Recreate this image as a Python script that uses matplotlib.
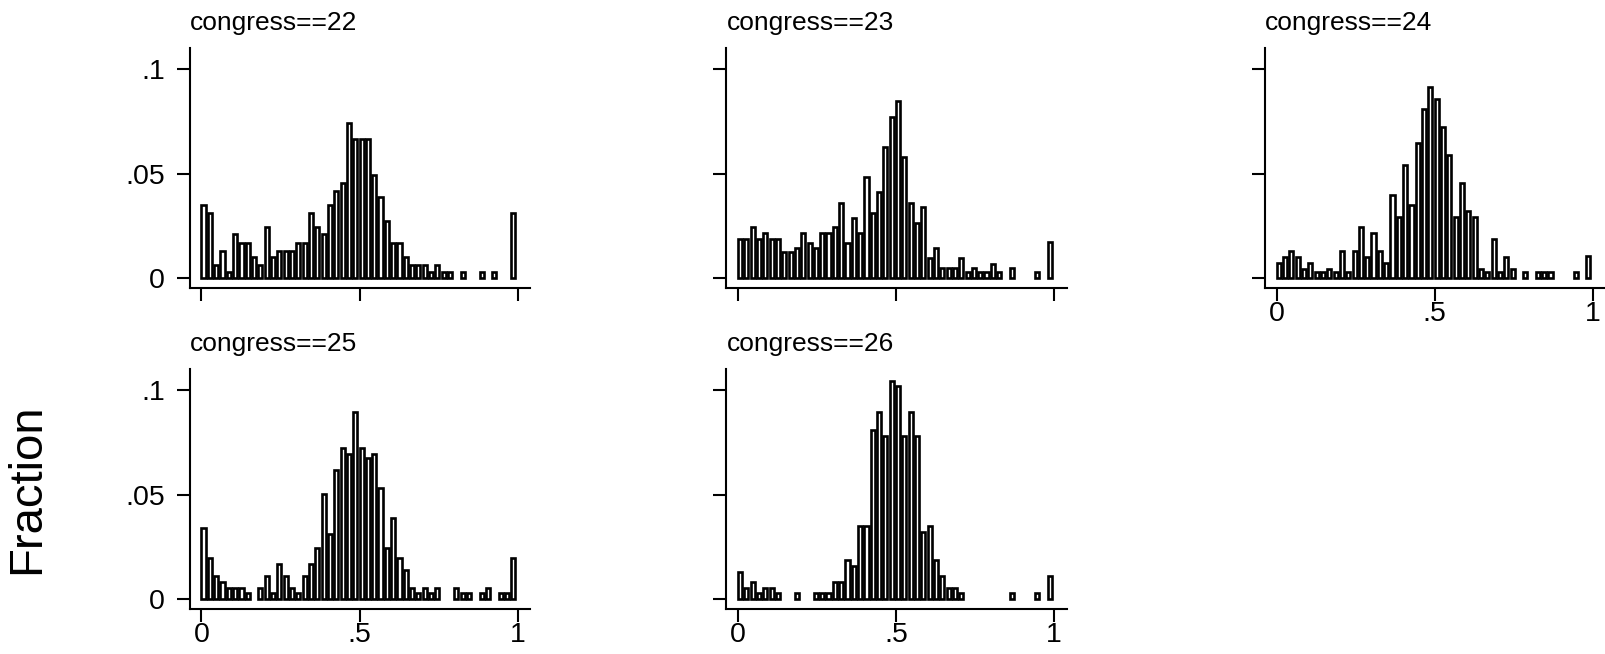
"""
Vote-share histograms by congress (Stata-style small multiples)
"""

import numpy as np
import matplotlib

matplotlib.use("Agg")
import matplotlib.pyplot as plt

plt.rcParams["font.family"] = ["Liberation Sans", "DejaVu Sans"]

# 50 bins of width .02 on [0, 1]
BIN_WIDTH = 0.02
bin_left = np.arange(50) * BIN_WIDTH

frac_22 = [
    .0352, .0313, .0063, .0132, .0029, .0210, .0171, .0171, .0103, .0063,
    .0246, .0103, .0132, .0132, .0132, .0171, .0171, .0313, .0246, .0210,
    .0352, .0417, .0456, .0741, .0665, .0665, .0665, .0494, .0389, .0275,
    .0171, .0171, .0103, .0063, .0063, .0063, .0029, .0063, .0029, .0029,
    0, .0029, 0, 0, .0029, 0, .0029, 0, 0, .0313,
]
frac_23 = [
    .0190, .0190, .0246, .0190, .0217, .0190, .0190, .0124, .0124, .0143,
    .0217, .0171, .0143, .0217, .0217, .0246, .0362, .0171, .0286, .0217,
    .0484, .0313, .0410, .0627, .0770, .0846, .0579, .0362, .0265, .0341,
    .0095, .0143, .0048, .0048, .0048, .0095, .0029, .0048, .0029, .0029,
    .0067, .0029, 0, .0048, 0, 0, 0, .0029, 0, .0172,
]
frac_24 = [
    .0075, .0103, .0132, .0103, .0046, .0075, .0029, .0029, .0046, .0029,
    .0132, .0029, .0132, .0246, .0103, .0217, .0132, .0075, .0397, .0294,
    .0541, .0352, .0646, .0810, .0913, .0854, .0722, .0590, .0294, .0456,
    .0321, .0294, .0046, .0029, .0189, .0029, .0103, .0046, 0, .0029,
    0, .0029, .0029, .0029, 0, 0, 0, .0029, 0, .0105,
]
frac_25 = [
    .0339, .0195, .0110, .0080, .0051, .0051, .0051, .0030, 0, .0051,
    .0110, .0030, .0168, .0110, .0051, .0030, .0110, .0168, .0243, .0502,
    .0310, .0618, .0722, .0693, .0895, .0722, .0674, .0693, .0530, .0243,
    .0387, .0195, .0139, .0051, .0030, .0051, .0030, .0051, 0, 0,
    .0051, .0030, .0030, 0, .0030, .0051, 0, .0030, .0030, .0195,
]
frac_26 = [
    .0128, .0051, .0080, .0030, .0051, .0051, .0030, 0, 0, .0030,
    0, 0, .0030, .0030, .0030, .0080, .0080, .0185, .0158, .0350,
    .0350, .0810, .0895, .0781, .1046, .1021, .0781, .0895, .0781, .0319,
    .0350, .0185, .0110, .0051, .0051, .0030, 0, 0, 0, 0,
    0, 0, 0, .0030, 0, 0, 0, .0030, 0, .0110,
]

TITLES = ["congress==22", "congress==23", "congress==24", "congress==25", "congress==26"]
SERIES = [frac_22, frac_23, frac_24, frac_25, frac_26]

FIG_W, FIG_H = 1606, 654
# pixel position of x = 0 for each column, and of the x axis line for each row
COL_X0 = [201.5, 738.0, 1276.7]
ROW_BOTTOM = [288.0, 608.5]
PX_PER_X = 316.0
PX_PER_Y = [2095.0, 2087.0]
XLIM = (-0.0364, 1.04)
YLIM = (-0.0046, 0.110)

# (column, row, show y labels, show x labels)
LAYOUT = [
    (0, 0, True, False),
    (1, 0, False, False),
    (2, 0, False, True),
    (0, 1, True, True),
    (1, 1, False, True),
]

fig = plt.figure(figsize=(FIG_W / 100, FIG_H / 100), dpi=100)

for title, values, (col, row, ylab, xlab) in zip(TITLES, SERIES, LAYOUT):
    left_px = COL_X0[col] + XLIM[0] * PX_PER_X
    width_px = (XLIM[1] - XLIM[0]) * PX_PER_X
    height_px = (YLIM[1] - YLIM[0]) * PX_PER_Y[row]
    bottom_px = ROW_BOTTOM[row]
    ax = fig.add_axes(
        [
            left_px / FIG_W,
            1 - bottom_px / FIG_H,
            width_px / FIG_W,
            height_px / FIG_H,
        ]
    )

    vals = np.array(values)
    keep = vals > 0
    # white bars with heavy black outlines, as in the Stata output
    ax.bar(
        bin_left[keep],
        vals[keep],
        width=0.013,
        align="edge",
        color="white",
        edgecolor="black",
        linewidth=1.9,
    )

    ax.set_xlim(*XLIM)
    ax.set_ylim(*YLIM)

    for side in ["top", "right"]:
        ax.spines[side].set_visible(False)
    for side in ["left", "bottom"]:
        ax.spines[side].set_linewidth(1.5)

    ax.set_xticks([0, 0.5, 1])
    ax.set_yticks([0, 0.05, 0.1])
    ax.set_xticklabels(["0", ".5", "1"] if xlab else [])
    ax.set_yticklabels(["0", ".05", ".1"] if ylab else [])
    ax.tick_params(axis="both", direction="out", length=9.5, width=1.5, labelsize=20.5)
    ax.tick_params(axis="x", pad=0)
    ax.tick_params(axis="y", pad=8.5)

    ax.annotate(
        title,
        xy=(0, 1),
        xycoords="axes fraction",
        xytext=(0, 13),
        textcoords="offset points",
        ha="left",
        va="baseline",
        fontsize=19,
    )

fig.text(
    27.5 / FIG_W,
    1 - 489 / FIG_H,
    "Fraction",
    rotation=90,
    ha="center",
    va="center",
    fontsize=34,
)

plt.savefig("out.png", dpi=100)
